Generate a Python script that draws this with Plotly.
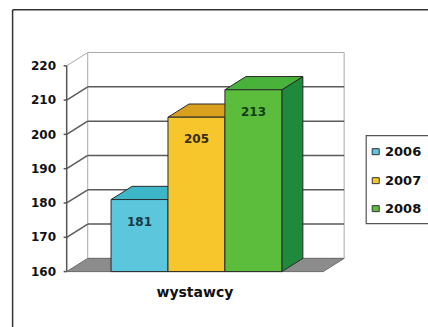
import plotly.graph_objects as go

# ---- data ----
category = "wystawcy"
years = ["2006", "2007", "2008"]
values = [181, 205, 213]
y_ticks = [160, 170, 180, 190, 200, 210, 220]

# ---- styles ----
front_colors = ["#5cc6dc", "#f7c62c", "#5cbd3c"]
top_colors = ["#3db6c8", "#d9a01e", "#48b23a"]
side_colors = ["#2a9aac", "#b88a18", "#1f8a3c"]
label_colors = ["#163844", "#3a2e0c", "#123c18"]
FONT = "DejaVu Sans"

W, H = 428, 327
# geometry of the pseudo-3D box (in axis units)
DX = 0.082      # depth offset along x
DY = 3.85       # depth offset along y
X_LO, X_HI = -0.5, 0.5
Y_LO, Y_HI = y_ticks[0], y_ticks[-1]
xr = [X_LO - 0.03, X_HI + DX + 0.015]
yr = [Y_LO - 0.7, Y_HI + DY + 0.45]

# pixel anchors
px_per_x = 256.0
px_per_y = 3.433
x_front_px = 67.0
y_base_px = 272.0
left_px = x_front_px - (X_LO - xr[0]) * px_per_x
right_px = left_px + (xr[1] - xr[0]) * px_per_x
bottom_px = y_base_px + (Y_LO - yr[0]) * px_per_y
top_px = bottom_px - (yr[1] - yr[0]) * px_per_y

bw = 0.222
center = 0.006

fig = go.Figure()
shapes = []

def poly(pts, fill, line="#2a2a2a", lw=1, layer="below"):
    path = "M " + " L ".join(f"{x},{y}" for x, y in pts) + " Z"
    return dict(type="path", path=path, xref="x", yref="y", fillcolor=fill,
                line=dict(color=line, width=lw), layer=layer)

def seg(x0, y0, x1, y1, color, lw=1, layer="below"):
    return dict(type="line", x0=x0, y0=y0, x1=x1, y1=y1, xref="x", yref="y",
                line=dict(color=color, width=lw), layer=layer)

# back wall
shapes.append(poly([(X_LO + DX, Y_LO + DY), (X_HI + DX, Y_LO + DY),
                    (X_HI + DX, Y_HI + DY), (X_LO + DX, Y_HI + DY)],
                   "white", line="#a8a8a8", lw=1))
# left wall edge (top diagonal)
shapes.append(seg(X_LO, Y_HI, X_LO + DX, Y_HI + DY, "#a8a8a8", 1))
# gridlines
for v in y_ticks[1:-1]:
    shapes.append(seg(X_LO + DX, v + DY, X_HI + DX, v + DY, "#5a5a5a", 1.5))
    shapes.append(seg(X_LO, v, X_LO + DX, v + DY, "#5a5a5a", 1.5))
# floor
shapes.append(poly([(X_LO, Y_LO), (X_HI, Y_LO), (X_HI + DX, Y_LO + DY),
                    (X_LO + DX, Y_LO + DY)], "#8c8c8c", line="#6a6a6a", lw=1))
# front value axis + ticks
shapes.append(seg(X_LO, Y_LO, X_LO, Y_HI, "#555555", 1.5))
for v in y_ticks:
    shapes.append(seg(X_LO - 0.012, v, X_LO, v, "#555555", 1.5))

annotations = []
for i, (yr_name, v) in enumerate(zip(years, values)):
    x0 = center - 1.5 * bw + i * bw
    x1 = x0 + bw
    # side face
    shapes.append(poly([(x1, Y_LO), (x1 + DX, Y_LO + DY), (x1 + DX, v + DY), (x1, v)],
                       side_colors[i]))
    # top face
    shapes.append(poly([(x0, v), (x1, v), (x1 + DX, v + DY), (x0 + DX, v + DY)],
                       top_colors[i]))
    fig.add_trace(go.Bar(
        x=[0], y=[v - Y_LO], base=Y_LO, width=bw, offset=x0, name=yr_name,
        marker=dict(color=front_colors[i], line=dict(color="#2a2a2a", width=1)),
        showlegend=False, hoverinfo="skip"))
    annotations.append(dict(x=x0 + bw / 2, y=v, xref="x", yref="y", text=str(v),
                            showarrow=False, yshift=-22,
                            font=dict(family=FONT, size=12, color=label_colors[i],
                                      weight="bold")))

# ---- custom legend (paper coords) ----
pw = right_px - left_px
ph = bottom_px - top_px
def px2paper(px, py):
    return (px - left_px) / pw, (bottom_px - py) / ph

lx0, ly0 = px2paper(366, 136)
lx1, ly1 = px2paper(440, 224)
shapes.append(dict(type="rect", xref="paper", yref="paper", x0=lx0, y0=ly1, x1=lx1, y1=ly0,
                   fillcolor="white", line=dict(color="#555555", width=1.2), layer="above"))
legend_rows = [152, 181, 209]
for i, name in enumerate(years):
    sx0, sy0 = px2paper(372, legend_rows[i] - 3)
    sx1, sy1 = px2paper(379, legend_rows[i] + 3)
    shapes.append(dict(type="rect", xref="paper", yref="paper", x0=sx0, y0=sy1, x1=sx1, y1=sy0,
                       fillcolor=front_colors[i], line=dict(color="#333333", width=1),
                       layer="above"))
    tx, ty = px2paper(383, legend_rows[i])
    annotations.append(dict(x=tx, y=ty, xref="paper", yref="paper", text=name,
                            showarrow=False, xanchor="left", yanchor="middle",
                            font=dict(family=FONT, size=13, color="#111111", weight="bold")))

# ---- outer border (top and left visible) ----
bx0, by0 = px2paper(13, 10)
shapes.append(dict(type="line", xref="paper", yref="paper", x0=bx0, y0=by0, x1=2, y1=by0,
                   line=dict(color="#333333", width=1.5), layer="above"))
shapes.append(dict(type="line", xref="paper", yref="paper", x0=bx0, y0=by0, x1=bx0, y1=-1,
                   line=dict(color="#333333", width=1.5), layer="above"))

fig.update_layout(
    width=W, height=H,
    margin=dict(l=left_px, r=W - right_px, t=top_px, b=H - bottom_px, pad=0),
    paper_bgcolor="white", plot_bgcolor="rgba(0,0,0,0)",
    barmode="overlay", showlegend=False,
    shapes=shapes, annotations=annotations,
    xaxis=dict(range=xr, tickvals=[0], ticktext=[category], showgrid=False,
               zeroline=False, showline=False, ticks="", ticklabelstandoff=8,
               tickfont=dict(family=FONT, size=14, color="#111111", weight="bold"),
               fixedrange=True),
    yaxis=dict(range=yr, tickvals=y_ticks, showgrid=False, zeroline=False,
               showline=False, ticks="", ticklabelstandoff=2,
               tickfont=dict(family=FONT, size=12, color="#111111", weight="bold"),
               fixedrange=True),
)

fig.write_html("out.html")
